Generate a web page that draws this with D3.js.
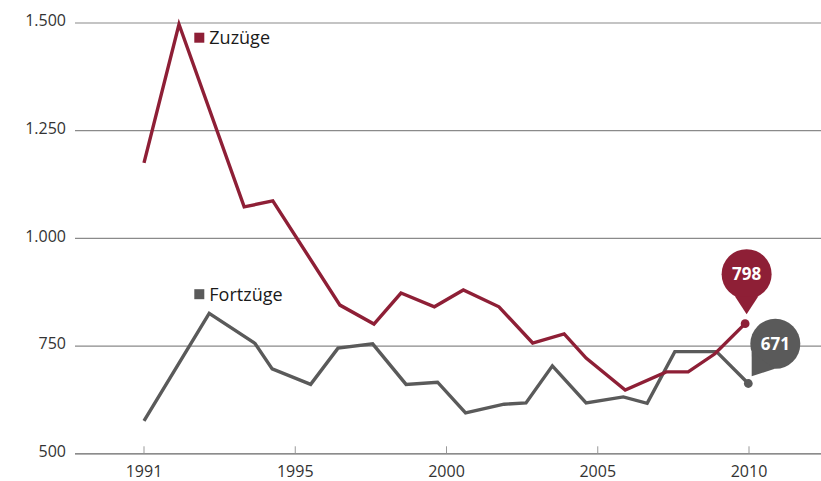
<!DOCTYPE html>
<html>
<head>
<meta charset="utf-8">
<script src="https://cdn.jsdelivr.net/npm/d3@7"></script>
<style>
  html, body { margin: 0; padding: 0; background: #fff; }
  svg { display: block; font-family: "Open Sans", "Noto Sans", sans-serif; }
</style>
</head>
<body>
<svg id="chart" width="821" height="481"></svg>
<script>
// ---- data ----
const seriesNames = ["Zuzüge", "Fortzüge"];
// time positions (years, as placed in the picture) and values
const zuzuegeT = [1991.0, 1992.1, 1994.15, 1995.05, 1997.16, 1998.23, 1999.08, 2000.13, 2001.04, 2002.16,
                  2003.22, 2004.21, 2004.9, 2006.13, 2007.42, 2008.11, 2008.95, 2009.9];
const zuzuegeV = [1174, 1496, 1072, 1086, 844, 800, 872, 840, 879, 840,
                  756, 777, 721, 647, 689, 689, 731, 801];
const fortzuegeT = [1991.0, 1993.05, 1994.49, 1995.03, 1996.24, 1997.1, 1998.19, 1999.24, 2000.23, 2001.11,
                    2002.32, 2003.01, 2003.84, 2004.9, 2006.07, 2006.82, 2007.69, 2009.0, 2010.0];
const fortzuegeV = [575, 825, 755, 696, 660, 744, 754, 660, 665, 594,
                    614, 617, 703, 617, 631, 616, 736, 736, 662];
const endLabels = [798, 671];
const yTicks = [500, 750, 1000, 1250, 1500];
const xTickLabels = ["1991", "1995", "2000", "2005", "2010"];

// ---- styles ----
const RED = "#8e1f36";
const GRAY = "#5a5a5a";

const svg = d3.select("#chart");
const de = d3.formatLocale({decimal: ",", thousands: ".", grouping: [3], currency: ["", " €"]});
const fmt = de.format(",d");

const x = d3.scaleLinear().domain([1991, 2010]).range([144, 748.3]);
const xTick = d3.scalePoint().domain(xTickLabels).range([143.5, 748.5]);
const y = d3.scaleLinear().domain([500, 1500]).range([453.3, 22.5]);

const left = 75, right = 821;

// gridlines
const yAxis = d3.axisLeft(y).tickValues(yTicks).tickSize(0).tickFormat(fmt);
const gy = svg.append("g").attr("transform", `translate(${left},0)`).call(yAxis);
gy.select(".domain").remove();
gy.selectAll(".tick line").attr("x2", right - left).attr("stroke", "#8a8a8a").attr("stroke-width", 1.2);
gy.selectAll(".tick text")
  .attr("x", -9).attr("dy", "0.2em")
  .attr("fill", "#333").attr("font-size", "16px")
  .attr("font-family", "'Open Sans', sans-serif");
gy.selectAll(".tick").filter(d => d === 500).select("line").attr("stroke", "#666");

// x axis
const xAxis = d3.axisBottom(xTick).tickSize(-7).tickPadding(14);
const gx = svg.append("g").attr("transform", `translate(0,${y(500)})`).call(xAxis);
gx.select(".domain").remove();
gx.selectAll(".tick line").attr("stroke", "#999").attr("stroke-width", 1);
gx.selectAll(".tick text").attr("y", 23.3).attr("dy", null)
  .attr("fill", "#333").attr("font-size", "16px")
  .attr("font-family", "'Open Sans', sans-serif");

// lines
const line = d3.line().x(d => x(d[0])).y(d => y(d[1]));
const fortData = fortzuegeT.map((t, i) => [t, fortzuegeV[i]]);
const zuzData = zuzuegeT.map((t, i) => [t, zuzuegeV[i]]);

svg.append("path").datum(fortData).attr("d", line)
  .attr("fill", "none").attr("stroke", GRAY).attr("stroke-width", 3.4)
  .attr("stroke-linejoin", "miter").attr("stroke-miterlimit", 10);
svg.append("path").datum(zuzData).attr("d", line)
  .attr("fill", "none").attr("stroke", RED).attr("stroke-width", 3.4)
  .attr("stroke-linejoin", "miter").attr("stroke-miterlimit", 10);

// end dots
const lastF = fortData[fortData.length - 1];
const lastZ = zuzData[zuzData.length - 1];
svg.append("circle").attr("cx", x(lastF[0])).attr("cy", y(lastF[1])).attr("r", 4.4).attr("fill", GRAY);
svg.append("circle").attr("cx", x(lastZ[0])).attr("cy", y(lastZ[1])).attr("r", 4.4).attr("fill", RED);

// bubble with tail
function bubble(cx, cy, r, tipX, tipY, spreadDeg, color, label) {
  const ang = Math.atan2(tipY - cy, tipX - cx);
  const s = spreadDeg * Math.PI / 180;
  const a1 = ang - s, a2 = ang + s;
  const p1 = [cx + r * Math.cos(a1), cy + r * Math.sin(a1)];
  const p2 = [cx + r * Math.cos(a2), cy + r * Math.sin(a2)];
  const g = svg.append("g");
  g.append("circle").attr("cx", cx).attr("cy", cy).attr("r", r).attr("fill", color);
  g.append("path").attr("d", `M${p1[0]},${p1[1]}L${tipX},${tipY}L${p2[0]},${p2[1]}Z`).attr("fill", color);
  g.append("text").attr("x", cx).attr("y", cy).attr("dy", "0.36em")
    .attr("text-anchor", "middle").attr("fill", "#fff")
    .attr("font-size", "17px").attr("font-weight", "bold")
    .attr("font-family", "'Open Sans', sans-serif")
    .text(label);
}
const zx = x(lastZ[0]), zy = y(lastZ[1]);
bubble(zx + 1.5, zy - 49.5, 25, zx + 1.5, zy - 9.5, 28, RED, endLabels[0]);
const fx = x(lastF[0]), fy = y(lastF[1]);
bubble(fx + 27, fy - 39.7, 25, fx + 3.4, fy - 7.3, 35, GRAY, endLabels[1]);

// legend labels
const legend = [
  {name: seriesNames[0], color: RED, x: 194.3, y: 44},
  {name: seriesNames[1], color: GRAY, x: 194.3, y: 300.5}
];
legend.forEach(l => {
  svg.append("rect").attr("x", l.x).attr("y", l.y - 11.3).attr("width", 10).attr("height", 10).attr("fill", l.color);
  svg.append("text").attr("x", l.x + 15).attr("y", l.y)
    .attr("fill", "#1a1a1a").attr("font-size", "18px")
    .attr("font-family", "'Open Sans', sans-serif")
    .text(l.name);
});
</script>
</body>
</html>
